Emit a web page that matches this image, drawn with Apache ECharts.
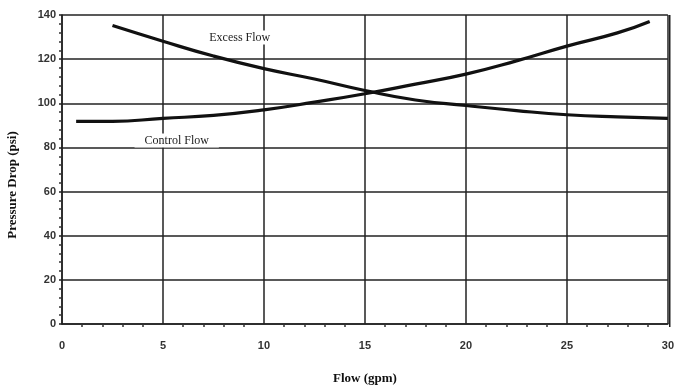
<!DOCTYPE html>
<html>
<head>
<meta charset="utf-8">
<script src="https://cdn.jsdelivr.net/npm/echarts@6/dist/echarts.min.js"></script>
<style>
html,body{margin:0;padding:0;background:#fff;}
#chart{width:677px;height:390px;}
</style>
</head>
<body>
<div id="chart"></div>
<script>
const excessX = [2.5, 5, 7.5, 10, 12.5, 15, 17.5, 20, 22.5, 25, 27.5, 30];
const excessY = [135.2, 128.1, 121.4, 115.7, 111, 105.8, 101.5, 99, 96.7, 94.8, 93.8, 93.2];
const controlX = [0.7, 2.5, 5, 7.5, 10, 12.5, 15, 17.5, 20, 22.5, 25, 27.5, 29.1];
const controlY = [91.8, 91.8, 93.2, 94.5, 97, 100.5, 104.3, 108.7, 113.2, 119.2, 125.9, 131.9, 137.1];
const excessLabel = {name: 'Excess Flow', x: 8.8, y: 129.8};
const controlLabel = {name: 'Control Flow', x: 5.68, y: 83.1};

const zip = (xs, ys) => xs.map((x, i) => [x, ys[i]]);
const chart = echarts.init(document.getElementById('chart'));
const labelStyle = (pad) => ({
  show: true, position: 'inside', color: '#222',
  fontFamily: 'Liberation Serif', fontSize: 12,
  backgroundColor: '#fff', padding: [1, pad]
});
chart.setOption({
  animation: false,
  backgroundColor: '#fff',
  grid: {left: 62, right: 7, top: 15, bottom: 63},
  xAxis: {
    type: 'value', min: 0, max: 30, interval: 5,
    name: 'Flow (gpm)', nameLocation: 'middle', nameGap: 48,
    nameTextStyle: {fontFamily: 'Liberation Serif', fontWeight: 'bold', fontSize: 13, color: '#111'},
    axisLine: {show: true, lineStyle: {color: '#222', width: 1.5}},
    axisTick: {show: false},
    minorTick: {show: true, splitNumber: 5, length: 3, lineStyle: {color: '#333', width: 1.5}},
    axisLabel: {fontFamily: 'Liberation Sans', fontWeight: 'bold', fontSize: 11, color: '#333', margin: 16},
    splitLine: {show: true, lineStyle: {color: '#222', width: 1.5}}
  },
  yAxis: {
    type: 'value', min: 0, max: 140, interval: 20,
    axisLine: {show: true, lineStyle: {color: '#222', width: 1.5}},
    axisTick: {show: true, length: 3, lineStyle: {color: '#222', width: 1.5}},
    minorTick: {show: true, splitNumber: 5, length: 3, lineStyle: {color: '#333', width: 1.5}},
    axisLabel: {fontFamily: 'Liberation Sans', fontWeight: 'bold', fontSize: 11, color: '#333', margin: 6},
    splitLine: {show: true, lineStyle: {color: '#222', width: 1.5}}
  },
  graphic: [
    {type: 'rect', shape: {x: 669, y: 15, width: 1.5, height: 312}, style: {fill: '#222'}, silent: true},
    {type: 'text', x: 13, y: 185, rotation: Math.PI / 2, style: {
      text: 'Pressure Drop (psi)', fontFamily: 'Liberation Serif', fontWeight: 'bold', fontSize: 13,
      fill: '#111', textAlign: 'center', textVerticalAlign: 'middle'}}
  ],
  series: [
    {
      type: 'line', name: 'Excess Flow', data: zip(excessX, excessY), smooth: true,
      symbol: 'none', lineStyle: {color: '#111', width: 3.2}, z: 5,
      markPoint: {symbol: 'rect', symbolSize: 1, itemStyle: {color: 'rgba(0,0,0,0)'},
        label: labelStyle(4),
        data: [{coord: [excessLabel.x, excessLabel.y], value: excessLabel.name}]}
    },
    {
      type: 'line', name: 'Control Flow', data: zip(controlX, controlY), smooth: true,
      symbol: 'none', lineStyle: {color: '#111', width: 3.2}, z: 5,
      markPoint: {symbol: 'rect', symbolSize: 1, itemStyle: {color: 'rgba(0,0,0,0)'},
        label: labelStyle(10),
        data: [{coord: [controlLabel.x, controlLabel.y], value: controlLabel.name}]}
    }
  ]
});
</script>
</body>
</html>
